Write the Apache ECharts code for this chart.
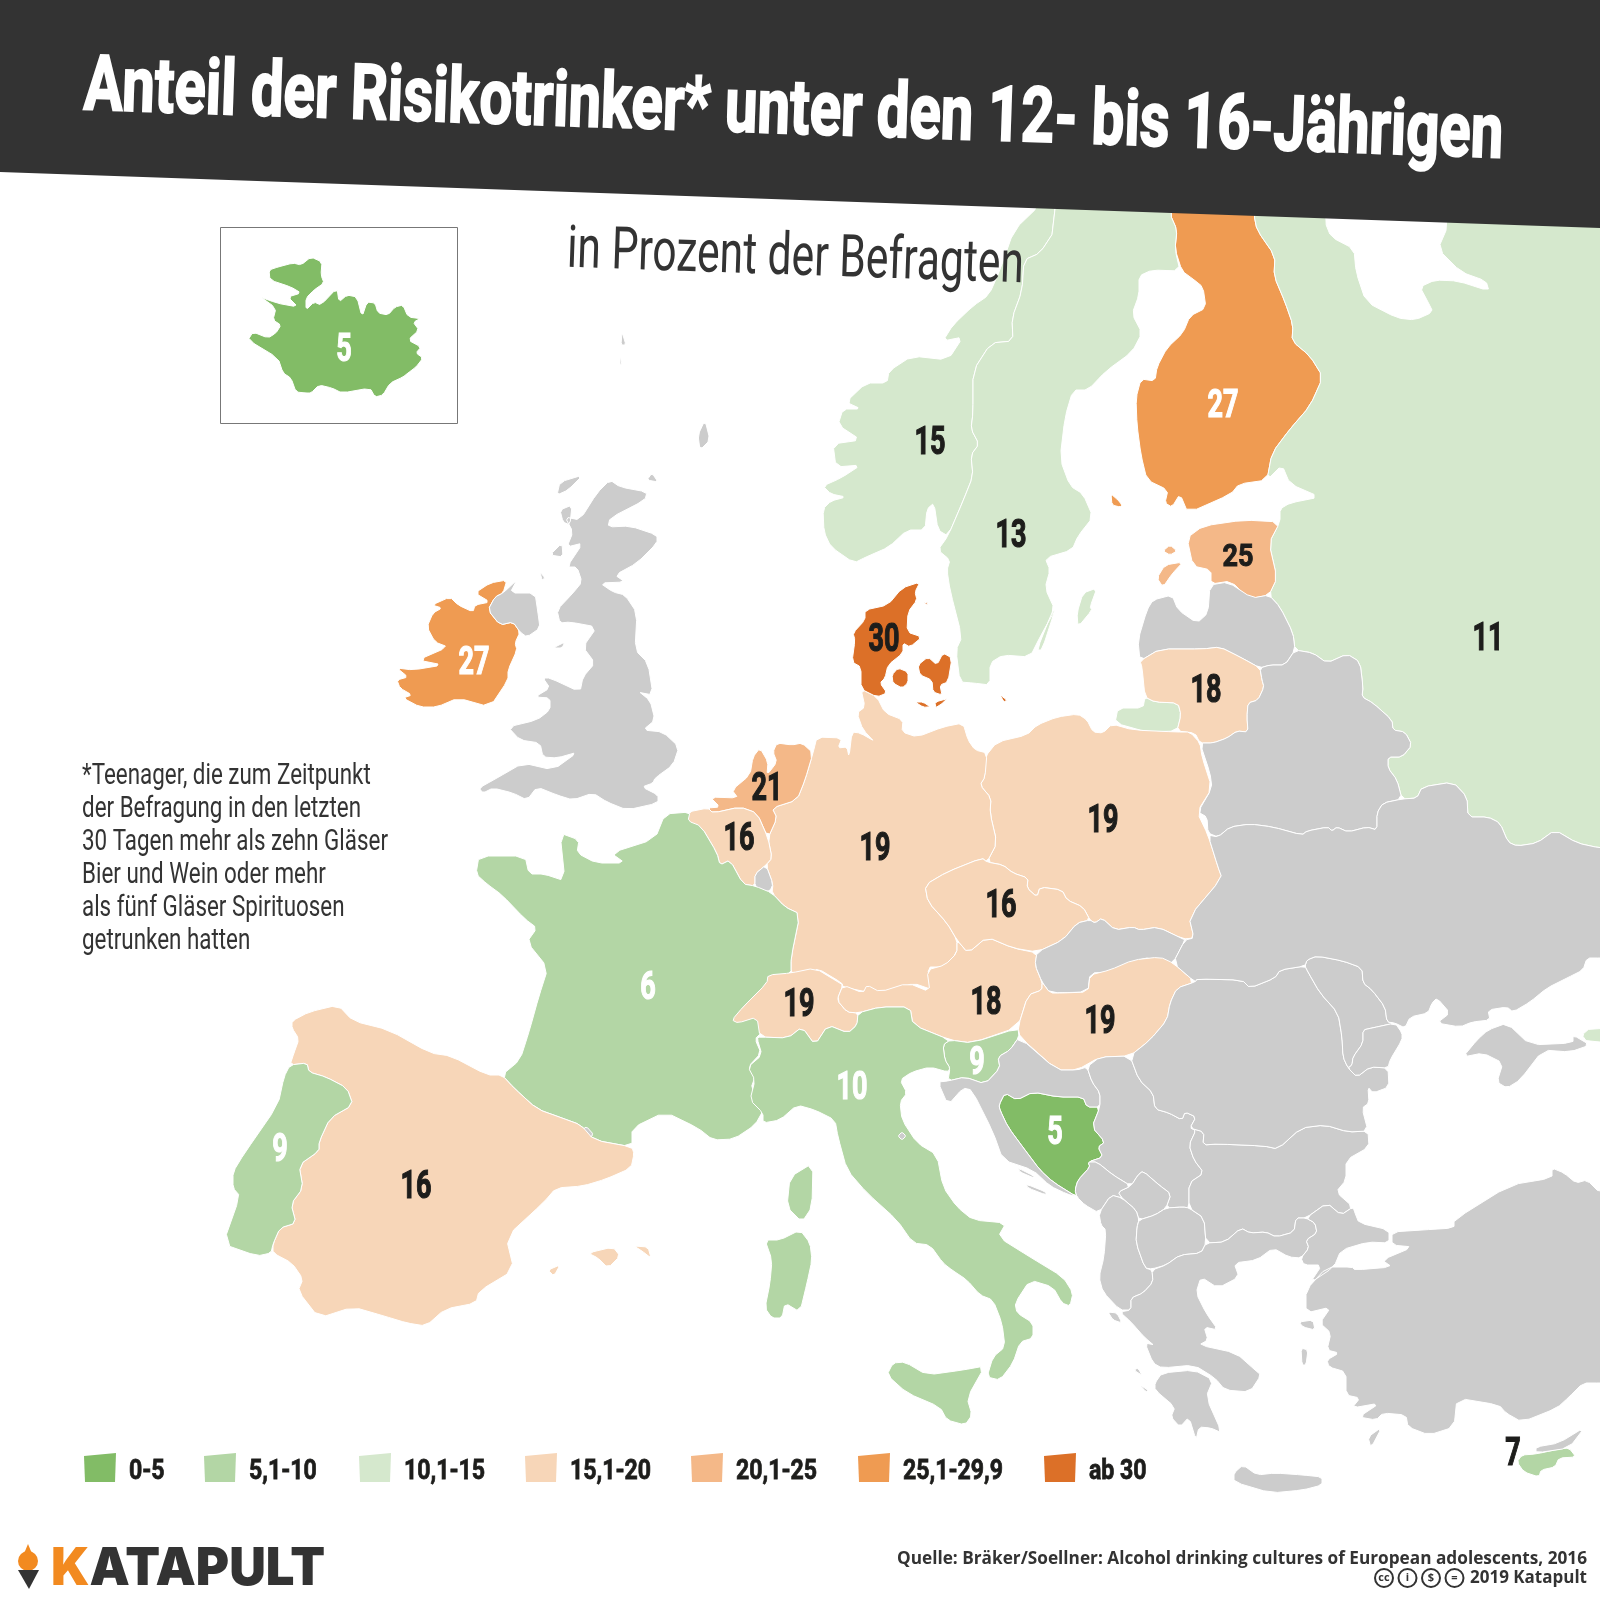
<!DOCTYPE html>
<html>
<head>
<meta charset="utf-8">
<title>Anteil der Risikotrinker</title>
<script src="https://cdn.jsdelivr.net/npm/echarts@6/dist/echarts.min.js"></script>
<style>
	html, body { margin: 0; background: #fff; }
	#map { width: 1600px; height: 1600px; }
</style>
</head>
<body>
<div id="map"></div>
<script>
// Werte
const countryNames = ['Island', 'Finnland', 'Norwegen', 'Schweden', 'Russland', 'Estland', 'Irland', 'Dänemark', 'Litauen', 'Niederlande', 'Belgien', 'Deutschland', 'Polen', 'Tschechien', 'Frankreich', 'Schweiz', 'Österreich', 'Ungarn', 'Slowenien', 'Italien', 'Bosnien', 'Portugal', 'Spanien', 'Zypern']
const riskShares = [5, 27, 15, 13, 11, 25, 27, 30, 18, 21, 16, 19, 19, 16, 6, 19, 18, 19, 9, 10, 5, 9, 16, 7]
const whiteLabels = ['Island', 'Finnland', 'Irland', 'Frankreich', 'Italien', 'Slowenien', 'Bosnien', 'Portugal']

// Legende
const classLabels = ['0-5', '5,1-10', '10,1-15', '15,1-20', '20,1-25', '25,1-29,9', 'ab 30']
const classColors = ['#82bc66', '#b3d6a5', '#d5e8cd', '#f7d6b8', '#f4b888', '#ef9b52', '#dc7028']
const classLower = [-1, 5, 10, 15, 20, 25, 29.9]
const classUpper = [5, 10, 15, 20, 25, 29.9, 100]

const noteLines = ['*Teenager, die zum Zeitpunkt', 'der Befragung in den letzten', '30 Tagen mehr als zehn Gläser', 'Bier und Wein oder mehr', 'als fünf Gläser Spirituosen', 'getrunken hatten']

// Umrisse, von Hand nachgezeichnet (x,y im Bild)
const labelAt = {
	Island: [344, 347], Finnland: [1223, 403], Norwegen: [930, 440], Schweden: [1011, 533], Russland: [1488, 636],
	Estland: [1238, 554], Irland: [474, 660], 'Dänemark': [884, 637], Litauen: [1206, 688], Niederlande: [767, 786],
	Belgien: [739, 836], Deutschland: [875, 846], Polen: [1103, 818], Tschechien: [1001, 903], Frankreich: [648, 985],
	Schweiz: [799, 1002], 'Österreich': [986, 1000], Ungarn: [1100, 1019], Slowenien: [977, 1060], Italien: [852, 1085],
	Bosnien: [1055, 1130], Portugal: [280, 1147], Spanien: [416, 1184], Zypern: [1513, 1451]
}
const outlines = {
	Island: ['269,270 278,267 293,263 301,265 311,257 322,262 321,275 324,283 314,290 306,298 306,310 314,302 321,305 337,288 339,302 347,295 357,297 362,317 367,302 375,303 378,313 388,315 395,307 403,305 408,317 423,319 413,322 419,330 408,340 421,347 416,353 423,358 416,367 408,373 403,377 390,383 383,395 375,397 370,388 342,393 332,388 319,385 311,393 306,393 296,392 291,378 283,373 278,358 248,340 253,332 268,338 276,333 281,325 273,320 276,308 258,295 276,303 298,307 288,297 301,293 291,287 270,280'],
	Finnland: ['1170,100 1254,100 1254,215 1257,230 1275,256 1274,276 1285,302 1293,325 1292,341 1310,356 1323,377 1310,406 1290,429 1272,453 1267,480 1239,484 1231,494 1188,513 1180,494 1172,507 1165,503 1168,490 1147,480 1141,455 1137,425 1136,398 1141,379 1155,381 1157,367 1167,348 1183,333 1190,316 1206,308 1203,287 1193,279 1182,271 1175,249 1177,230 1170,214',
		'1111,494 1118,500 1122,505 1120,507 1112,505'],
	Norwegen: ['1058,100 1055,230 1040,253 1024,260 1022,291 1012,318 1013,341 991,343 973,371 973,413 971,429 979,444 971,455 973,476 963,501 948,536 938,530 934,503 927,509 925,530 907,530 889,547 866,557 854,563 831,547 824,532 823,509 831,501 846,497 831,494 823,486 841,478 861,465 836,467 833,444 861,440 838,425 843,409 861,409 846,402 866,383 887,383 889,371 912,356 948,360 963,337 943,341 953,325 973,306 989,295 1000,270 1014,230 1040,205'],
	Schweden: ['1058,100 1170,100 1170,214 1177,230 1175,249 1180,271 1152,270 1139,276 1139,295 1132,314 1142,333 1132,352 1106,371 1088,390 1073,390 1065,417 1060,459 1070,486 1083,494 1093,517 1078,536 1072,550 1045,558 1050,570 1045,588 1055,610 1040,637 1030,657 1003,655 990,663 990,685 973,683 960,682 956,650 962,637 950,590 947,570 950,560 938,550 948,536 963,501 973,476 971,455 979,444 971,429 973,413 973,371 991,343 1013,341 1012,318 1022,291 1024,260 1040,253 1055,230',
		'1077,613 1083,593 1097,588 1090,607 1092,610 1078,627',
		'1037,650 1052,612 1055,610 1042,650'],
	Russland: ['1254,100 1254,215 1257,230 1275,256 1274,276 1285,302 1293,325 1292,341 1310,356 1323,377 1310,406 1290,429 1272,453 1267,480 1282,465 1290,484 1320,497 1290,503 1280,509 1280,522 1269,543 1277,578 1269,595 1280,607 1293,633 1295,650 1313,653 1327,663 1347,654 1360,662 1363,687 1362,697 1373,703 1392,720 1393,730 1405,732 1412,745 1402,757 1388,757 1388,768 1397,780 1402,799 1417,798 1422,787 1453,782 1467,797 1468,817 1488,817 1500,823 1508,842 1517,846 1537,843 1555,830 1577,843 1600,848 1700,858 1700,100 1448,100 1448,226 1438,249 1461,272 1486,281 1489,291 1458,281 1435,280 1420,287 1428,302 1433,312 1415,320 1397,318 1366,302 1356,272 1354,249 1331,237 1325,222 1325,100',
		'1115,723 1118,708 1143,708 1145,697 1155,702 1178,703 1181,715 1177,731 1147,732',
		'1582,1035 1590,1028 1700,1027 1700,1047 1587,1042',
		'1593,977 1700,977 1700,1000'],
	Estland: ['1187,538 1203,526 1244,520 1280,522 1269,543 1277,578 1269,595 1249,599 1231,581 1211,584 1211,570 1193,566',
		'1157,578 1165,565 1183,562 1172,574 1163,587',
		'1163,551 1170,545 1177,551 1170,555'],
	Lettland: ['1138,640 1147,610 1153,600 1172,595 1178,610 1197,623 1208,613 1210,585 1228,582 1252,598 1269,595 1280,607 1293,633 1295,650 1285,665 1270,665 1260,668 1240,657 1220,647 1203,649 1160,649 1140,661'],
	Litauen: ['1140,661 1160,649 1203,649 1220,647 1240,657 1260,668 1262,680 1264,687 1258,700 1248,703 1247,717 1248,732 1237,731 1227,738 1213,743 1200,743 1195,733 1177,731 1181,715 1178,703 1155,702 1145,697 1142,667'],
	Belarus: ['1295,650 1313,653 1327,663 1347,654 1360,662 1363,687 1362,697 1373,703 1392,720 1393,730 1405,732 1412,745 1402,757 1388,757 1388,768 1397,780 1402,799 1383,803 1377,813 1377,830 1367,827 1348,832 1337,827 1332,831 1328,827 1307,831 1302,835 1273,827 1250,824 1230,827 1218,837 1208,833 1207,817 1198,812 1212,788 1210,773 1200,743 1213,743 1227,738 1237,731 1248,732 1247,717 1248,703 1258,700 1264,687 1262,680 1260,668 1270,665 1285,665'],
	Polen: ['997,742 985,757 985,777 980,785 991,798 990,813 997,843 987,862 1003,865 1013,873 1028,878 1027,888 1037,897 1040,887 1062,890 1067,900 1083,907 1090,920 1095,923 1102,918 1115,930 1133,927 1140,930 1158,927 1183,939 1194,938 1189,917 1222,878 1218,867 1208,835 1197,812 1212,788 1202,757 1200,743 1190,732 1177,732 1133,730 1112,724 1103,733 1093,732 1087,720 1078,714 1057,717 1037,725 1027,735'],
	Deutschland: ['817,737 842,738 838,748 847,747 849,757 852,732 860,733 876,742 863,730 857,713 865,707 861,689 877,697 885,713 903,720 902,732 917,737 943,727 963,723 968,740 975,750 987,753 985,777 980,785 991,798 990,813 997,843 987,862 982,858 947,872 925,885 928,902 947,923 957,940 957,953 943,967 927,967 933,990 913,983 897,990 867,992 843,987 842,983 817,968 813,975 800,977 791,973 791,958 800,914 785,907 772,893 773,884 766,865 772,858 768,838 777,818 772,808 797,800 805,780 813,753'],
	Niederlande: ['813,753 802,743 792,745 777,743 773,752 777,762 767,775 768,762 760,748 753,757 750,775 732,790 738,798 710,797 720,807 708,808 713,813 740,807 757,813 768,838 777,818 772,808 797,800 805,780'],
	Belgien: ['708,808 688,812 688,823 701,826 717,853 720,865 730,860 743,884 755,886 755,874 766,865 772,858 768,838 757,813 740,807 713,813'],
	Luxemburg: ['755,886 755,874 766,865 773,884 770,891 761,891'],
	Frankreich: ['690,812 665,814 655,839 611,853 625,863 596,863 577,853 579,840 560,833 565,881 544,874 529,874 525,856 479,856 476,874 487,884 502,895 525,919 537,928 527,942 548,968 539,996 529,1032 520,1060 502,1075 514,1088 537,1109 562,1118 581,1125 594,1140 632,1147 632,1128 665,1112 698,1128 713,1140 734,1139 755,1125 764,1109 751,1088 755,1077 748,1067 761,1053 755,1039 761,1033 759,1016 734,1021 743,1007 770,982 791,974 791,958 800,914 785,907 772,893 755,886 743,884 730,860 720,865 717,853 701,826 688,821',
		'813,1163 812,1207 802,1222 787,1207 790,1177'],
	Andorra: ['581,1133 586,1126 594,1135 585,1139'],
	Spanien: ['292,1021 309,1012 338,1005 353,1021 389,1030 430,1053 451,1056 487,1075 502,1075 514,1088 537,1109 562,1118 581,1125 594,1140 632,1147 634,1154 631,1168 606,1179 583,1186 556,1188 544,1202 506,1237 514,1270 479,1291 476,1303 445,1309 426,1326 407,1323 384,1316 353,1307 319,1318 298,1291 303,1279 292,1263 273,1253 273,1244 280,1228 296,1223 291,1204 303,1188 299,1165 319,1151 319,1142 330,1118 353,1105 347,1088 326,1077 309,1072 307,1063 290,1065 294,1053 299,1039 292,1028',
		'588,1253 613,1247 620,1256 608,1268 598,1258',
		'634,1246 648,1247 651,1258 642,1251',
		'548,1270 560,1265 554,1276'],
	Portugal: ['290,1065 307,1063 309,1072 326,1077 347,1088 353,1105 330,1118 319,1142 319,1151 299,1165 303,1188 291,1204 296,1223 280,1228 273,1244 271,1253 257,1256 223,1244 240,1196 233,1188 233,1172 244,1154 278,1105 284,1077'],
	Schweiz: ['732,1020 743,1007 767,983 768,975 791,973 815,968 838,982 843,985 837,1000 847,1012 858,1013 857,1025 848,1033 828,1025 815,1045 802,1027 788,1038 760,1037 757,1017 738,1023'],
	Liechtenstein: ['837,1000 842,993 843,1003'],
	'Österreich': ['843,985 863,993 867,985 880,992 908,983 930,992 927,970 945,965 957,953 957,940 968,953 987,937 1013,948 1037,953 1035,965 1042,982 1042,990 1028,995 1018,1027 972,1043 950,1040 913,1025 910,1007 880,1007 858,1013 847,1012 837,1000'],
	Tschechien: ['982,858 987,862 1003,865 1013,873 1028,878 1027,888 1037,897 1040,887 1062,890 1067,900 1083,907 1090,920 1077,923 1063,940 1037,952 1013,948 987,937 968,953 957,940 947,923 928,902 925,885 947,872'],
	Slowakei: ['1090,920 1095,923 1102,918 1115,930 1133,927 1140,930 1158,927 1183,939 1185,940 1173,963 1163,962 1143,957 1128,970 1112,972 1090,973 1088,992 1050,993 1042,982 1035,965 1037,952 1063,940 1077,923'],
	Ungarn: ['1042,982 1050,993 1062,993 1088,992 1090,975 1110,970 1133,960 1160,957 1173,963 1195,982 1177,988 1170,1003 1167,1020 1150,1040 1130,1056 1100,1057 1077,1070 1057,1070 1020,1037 1018,1027 1028,995 1042,990'],
	Slowenien: ['943,1045 950,1040 972,1043 1018,1028 1019,1037 1010,1050 998,1057 1000,1068 985,1084 965,1077 948,1081 950,1068 945,1060'],
	Italien: ['757,1038 760,1037 788,1038 802,1027 815,1045 828,1025 848,1033 857,1025 858,1013 880,1007 910,1007 913,1025 950,1040 943,1045 945,1060 950,1068 948,1072 930,1067 912,1072 900,1080 907,1093 900,1102 902,1120 917,1143 937,1155 943,1187 957,1207 973,1220 1006,1223 998,1237 1030,1257 1063,1277 1073,1293 1070,1306 1062,1303 1053,1287 1030,1280 1015,1303 1017,1313 1033,1323 1033,1338 1020,1342 1013,1363 1000,1380 987,1377 993,1357 1005,1347 1002,1323 993,1300 980,1295 967,1280 952,1270 943,1263 930,1245 913,1243 897,1220 867,1193 847,1170 838,1137 835,1120 815,1110 797,1105 780,1120 763,1123 763,1113 750,1100 755,1080 748,1067 762,1055',
		'765,1240 780,1240 800,1230 810,1243 812,1260 807,1283 800,1312 785,1303 782,1318 772,1318 765,1308 770,1283 772,1260',
		'887,1375 893,1363 905,1362 927,1375 963,1370 985,1366 967,1398 972,1415 965,1425 947,1420 940,1407 907,1393'],
	'San Marino': ['898,1136 902,1132 906,1136 902,1140'],
	Bosnien: ['999,1105 1005,1093 1017,1100 1033,1092 1058,1097 1083,1097 1087,1107 1100,1107 1092,1127 1105,1142 1098,1147 1103,1157 1088,1162 1090,1167 1078,1180 1075,1190 1077,1197 1053,1182 1040,1170 1025,1150 1008,1127 1000,1110'],
	Kroatien: ['1019,1037 1057,1070 1077,1070 1087,1067 1092,1082 1100,1093 1100,1107 1087,1107 1083,1097 1058,1097 1033,1092 1017,1100 1005,1093 999,1105 1000,1110 1008,1127 1025,1150 1040,1170 1053,1182 1077,1197 1067,1194 1050,1186 1033,1170 1003,1160 993,1132 972,1090 963,1088 948,1105 938,1082 948,1081 965,1077 985,1084 1000,1068 998,1057 1010,1050',
		'1018,1168 1034,1176 1034,1178 1020,1172',
		'1026,1184 1046,1192 1046,1195 1028,1188'],
	Serbien: ['1087,1067 1100,1057 1130,1056 1139,1080 1153,1093 1155,1109 1169,1113 1182,1120 1185,1112 1196,1117 1190,1128 1196,1130 1189,1145 1194,1160 1204,1173 1189,1183 1189,1208 1183,1207 1166,1208 1171,1194 1159,1185 1143,1171 1138,1175 1131,1186 1113,1175 1097,1162 1088,1162 1103,1157 1098,1147 1105,1142 1092,1127 1100,1107 1100,1093 1092,1082'],
	Kosovo: ['1143,1171 1159,1185 1171,1194 1166,1208 1155,1215 1139,1220 1136,1210 1122,1198 1118,1192 1131,1186 1138,1175'],
	Montenegro: ['1088,1162 1097,1162 1113,1175 1131,1186 1118,1192 1122,1198 1111,1195 1099,1213 1085,1205 1077,1197 1075,1190 1078,1180 1090,1167'],
	Albanien: ['1099,1213 1111,1195 1122,1198 1136,1210 1139,1220 1137,1227 1136,1243 1145,1268 1152,1270 1153,1282 1143,1293 1131,1298 1131,1310 1120,1310 1103,1292 1099,1277 1104,1257 1106,1230 1101,1225'],
	Nordmazedonien: ['1139,1220 1155,1215 1166,1208 1183,1207 1189,1208 1204,1218 1206,1243 1201,1253 1180,1255 1166,1265 1152,1269 1145,1268 1136,1243 1137,1227'],
	Bulgarien: ['1190,1128 1204,1132 1203,1145 1218,1144 1264,1146 1278,1149 1301,1128 1325,1125 1348,1132 1368,1131 1369,1147 1346,1160 1346,1180 1336,1192 1353,1207 1341,1215 1327,1203 1306,1218 1296,1218 1294,1232 1276,1237 1266,1232 1250,1233 1241,1228 1225,1242 1206,1243 1204,1218 1189,1208 1189,1183 1204,1173 1194,1160 1189,1145 1196,1130'],
	'Rumänien': ['1197,979 1242,980 1250,988 1275,978 1280,970 1305,966 1308,972 1320,993 1338,1013 1342,1037 1343,1057 1348,1068 1357,1077 1370,1067 1388,1068 1389,1087 1373,1093 1368,1087 1369,1103 1362,1108 1368,1131 1348,1132 1325,1125 1301,1128 1278,1149 1264,1146 1218,1144 1203,1145 1204,1132 1190,1128 1196,1117 1185,1112 1182,1120 1169,1113 1155,1109 1153,1093 1139,1080 1130,1056 1150,1040 1167,1020 1170,1003 1177,988 1195,982'],
	Moldau: ['1305,966 1307,960 1317,956 1343,961 1362,968 1363,983 1372,990 1385,1007 1387,1022 1395,1023 1372,1028 1363,1030 1363,1043 1353,1057 1352,1065 1348,1068 1343,1057 1342,1037 1338,1013 1320,993 1308,972'],
	Ukraine: ['1208,835 1218,837 1230,827 1250,824 1273,827 1302,835 1307,831 1328,827 1332,831 1337,827 1348,832 1367,827 1377,830 1377,813 1383,803 1402,799 1417,798 1422,787 1453,782 1467,797 1468,817 1488,817 1500,823 1508,842 1517,846 1537,843 1555,830 1577,843 1600,848 1700,858 1700,958 1600,958 1587,958 1583,970 1567,978 1547,988 1530,1002 1513,1012 1507,1007 1488,1010 1490,1020 1472,1022 1460,1027 1437,1023 1450,1013 1437,998 1432,1003 1428,1013 1410,1017 1405,1028 1395,1023 1387,1022 1385,1007 1372,990 1363,983 1362,968 1343,961 1317,956 1307,960 1305,966 1280,970 1275,978 1250,988 1242,980 1197,979 1195,982 1173,963 1185,940 1194,938 1189,917 1222,878 1218,867',
		'1395,1023 1372,1028 1363,1030 1363,1043 1353,1057 1352,1065 1348,1068 1357,1077 1370,1067 1388,1068 1390,1060 1402,1040 1402,1033',
		'1463,1057 1477,1040 1488,1030 1507,1023 1530,1045 1573,1043 1573,1035 1590,1045 1570,1052 1543,1050 1520,1080 1507,1088 1497,1082 1503,1063 1483,1053'],
	Griechenland: ['1131,1310 1131,1298 1143,1293 1153,1282 1152,1270 1166,1265 1180,1255 1201,1253 1206,1243 1225,1242 1241,1228 1250,1233 1266,1232 1276,1237 1294,1232 1296,1218 1306,1218 1315,1223 1317,1233 1306,1240 1309,1248 1301,1258 1289,1257 1273,1248 1257,1260 1234,1263 1239,1277 1218,1288 1201,1277 1196,1293 1206,1313 1218,1330 1204,1327 1208,1340 1199,1345 1236,1353 1255,1370 1261,1375 1250,1392 1225,1390 1215,1378 1194,1365 1162,1368 1153,1363 1145,1343 1155,1345 1145,1338 1131,1322 1120,1312',
		'1155,1383 1162,1373 1194,1370 1213,1380 1206,1397 1222,1433 1211,1428 1199,1427 1196,1440 1189,1417 1180,1427 1171,1417 1175,1407 1155,1390',
		'1234,1473 1243,1465 1257,1475 1275,1473 1303,1475 1322,1477 1322,1485 1303,1490 1271,1493 1234,1482',
		'1299,1322 1313,1320 1315,1330 1303,1327',
		'1301,1348 1308,1350 1306,1365 1302,1365',
		'1368,1437 1382,1427 1371,1448',
		'1108,1312 1117,1313 1122,1323 1113,1320',
		'1134,1370 1138,1368 1143,1377',
		'1140,1385 1148,1390 1146,1392'],
	'Türkei': ['1341,1215 1353,1207 1355,1213 1359,1223 1389,1230 1389,1243 1368,1242 1341,1250 1334,1267 1310,1283 1322,1265 1304,1265 1301,1258 1309,1248 1306,1240 1317,1233 1315,1223 1306,1218 1327,1203',
		'1392,1232 1422,1230 1454,1228 1454,1220 1510,1185 1552,1178 1552,1168 1564,1173 1576,1183 1587,1180 1600,1193 1700,1200 1700,1383 1600,1383 1583,1383 1569,1397 1557,1408 1522,1422 1506,1413 1499,1405 1457,1398 1454,1427 1429,1435 1408,1427 1406,1415 1383,1413 1376,1420 1359,1417 1380,1403 1352,1408 1360,1398 1346,1395 1346,1372 1329,1367 1327,1360 1339,1353 1327,1350 1331,1333 1320,1323 1331,1307 1306,1313 1306,1290 1327,1267 1352,1267 1355,1270 1392,1267 1382,1260 1413,1247 1392,1245'],
	Zypern: ['1517,1462 1522,1455 1536,1454 1559,1449 1569,1448 1576,1457 1559,1458 1555,1467 1541,1470 1539,1477 1524,1472'],
	Nordzypern: ['1536,1447 1559,1443 1585,1427 1569,1448 1536,1453'],
	Irland: ['507,580 503,593 495,597 488,610 500,625 513,622 520,632 515,643 517,650 508,670 508,680 490,707 458,698 437,707 420,707 403,698 412,695 400,688 397,680 408,677 397,668 413,670 443,665 418,660 448,647 435,642 427,627 433,613 442,608 432,605 450,597 458,605 473,612 475,605 490,602 475,593 490,583'],
	Nordirland: ['488,610 495,597 503,593 517,580 510,593 535,593 538,613 540,628 527,637 520,632 513,622 500,625'],
	Grossbritannien: ['610,480 620,487 647,492 645,500 610,518 608,527 630,526 657,535 657,543 637,563 615,575 625,582 600,583 613,592 625,595 637,613 635,650 648,663 653,695 637,692 650,700 655,720 643,730 663,732 679,747 673,765 655,778 653,783 642,787 658,795 658,803 627,810 607,802 593,793 573,800 557,795 537,787 527,800 513,793 493,788 483,793 479,788 497,778 523,763 553,770 578,752 557,758 543,757 540,743 520,740 508,727 537,720 550,710 550,698 535,697 550,688 543,678 550,678 580,692 583,677 595,663 583,647 597,627 570,622 560,623 557,610 573,593 582,582 577,567 567,567 583,543 567,547 573,532 565,517 580,520 597,493',
		'560,482 583,475 568,490 557,495',
		'560,510 572,505 570,525 563,522',
		'550,555 562,543 563,557',
		'540,572 545,578 542,580',
		'553,648 565,642 562,648',
		'647,480 658,482 652,473',
		'622,332 626,345 621,345',
		'620,355 622,365 620,365',
		'705,420 710,440 700,450 698,435'],
	'Dänemark': ['920,582 915,592 917,600 908,612 907,632 922,637 910,647 903,643 903,653 888,665 885,678 880,683 887,693 877,697 861,689 861,667 852,662 855,640 853,633 865,620 865,610 888,605 902,588',
		'892,675 898,668 908,672 908,683 902,688 893,683',
		'918,665 928,657 937,665 943,653 952,658 948,682 940,685 942,695 933,692 932,680 920,675',
		'915,702 923,702 932,708 923,707',
		'935,702 950,698 940,705 935,708',
		'1000,695 1007,700 1004,702',
		'923,603 928,602 928,605']
}

// y wird negativ, weil echarts bei geoJSON die Breite umkehrt.
// Ecken werden leicht abgeschnitten, damit die Küsten weicher wirken.
const toRing = text => {
	const pts = text.split(' ').map(p => p.split(',').map(Number))
	const ring = []
	pts.forEach((a, i) => {
		const b = pts[(i + 1) % pts.length]
		ring.push([a[0] * 0.8 + b[0] * 0.2, -(a[1] * 0.8 + b[1] * 0.2)])
		ring.push([a[0] * 0.2 + b[0] * 0.8, -(a[1] * 0.2 + b[1] * 0.8)])
	})
	ring.push(ring[0])
	return ring
}

echarts.registerMap('europa', {
	type: 'FeatureCollection',
	features: Object.keys(outlines).map(name => ({
		type: 'Feature',
		properties: { name: name },
		geometry: { type: 'MultiPolygon', coordinates: outlines[name].map(t => [toRing(t)]) }
	}))
})

// Schmale Schrift gibt es nicht, also wird gestaucht
const NARROW = 'Roboto, sans-serif'
const pen = document.createElement('canvas').getContext('2d')
const squeeze = (text, font, width) => {
	pen.font = font
	return width / pen.measureText(text).width
}

const chart = echarts.init(document.getElementById('map'))
chart.setOption({
	animation: false,
	visualMap: {
		type: 'piecewise',
		show: false,
		pieces: classLabels.map((label, i) => ({ gt: classLower[i], lte: classUpper[i], label: label, color: classColors[i] }))
	},
	series: [{
		type: 'map',
		map: 'europa',
		left: 0,
		top: 0,
		right: 0,
		bottom: 0,
		aspectScale: 1,
		boundingCoords: [[0, 0], [1600, -1600]],
		silent: true,
		itemStyle: { areaColor: '#cccccc', borderColor: '#fff', borderWidth: 1 },
		label: { show: false },
		data: countryNames.map((name, i) => ({ name: name, value: riskShares[i] }))
	}]
})

// Wertebeschriftung an den Länderpunkten
const valueFont = 'bold 39px ' + NARROW
const valueScale = squeeze('19', valueFont, 31)
const valueLabels = countryNames.map((name, i) => {
	const at = chart.convertToPixel({ seriesIndex: 0 }, [labelAt[name][0], -labelAt[name][1]])
	const color = whiteLabels.includes(name) ? '#fff' : '#1d1d1b'
	const small = name === 'Estland'
	return {
		type: 'text', z: 21, x: at[0], y: at[1] + 4, scaleX: valueScale, scaleY: small ? 0.82 : 1,
		style: { text: String(riskShares[i]), fill: color, stroke: color, lineWidth: 1.2, font: valueFont, align: 'center', verticalAlign: 'middle' }
	}
})

// Legende
const legendFont = 'bold 28px ' + NARROW
const legendScale = squeeze('25,1-29,9', legendFont, 100)
const legendX = [84, 204, 359, 525, 691, 858, 1044]
const legendItems = classLabels.flatMap((label, i) => [
	{ type: 'polygon', z: 21, shape: { points: [[legendX[i], 1456], [legendX[i] + 32, 1453], [legendX[i] + 31, 1482], [legendX[i] + 1, 1482]] }, style: { fill: classColors[i] } },
	{ type: 'text', z: 21, x: legendX[i] + 45, y: 1472, scaleX: legendScale, style: { text: label, fill: '#1d1d1b', stroke: '#1d1d1b', lineWidth: 0.8, font: legendFont, verticalAlign: 'middle' } }
])

const titleText = 'Anteil der Risikotrinker* unter den 12- bis 16-Jährigen'
const titleFont = 'bold 77px ' + NARROW
const subText = 'in Prozent der Befragten'
const subFont = '59px ' + NARROW
const noteFont = '30px ' + NARROW
const logoFont = '900 52px Inter, sans-serif'
const sourceText = 'Quelle: Bräker/Soellner: Alcohol drinking cultures of European adolescents, 2016'
const sourceFont = 'bold 17px "Open Sans", sans-serif'

chart.setOption({ graphic: { elements: [
	{ type: 'polygon', z: 20, shape: { points: [[0, 0], [1600, 0], [1600, 228], [0, 172]] }, style: { fill: '#333333' } },
	{ type: 'text', z: 21, x: 84, y: 90, rotation: -0.034, scaleX: squeeze(titleText, titleFont, 1420), style: {
		text: titleText, fill: '#fff', stroke: '#fff', lineWidth: 2, font: titleFont, verticalAlign: 'middle'
	} },
	{ type: 'text', z: 21, x: 567, y: 252, rotation: -0.034, scaleX: squeeze(subText, subFont, 457), style: {
		text: subText, fill: '#333333', font: subFont, verticalAlign: 'middle'
	} },
	{ type: 'rect', z: 1, shape: { x: 220.5, y: 227.5, width: 237, height: 196 }, style: { fill: 'none', stroke: '#777', lineWidth: 1 } },
	{ type: 'text', z: 21, x: 82, y: 760, scaleX: squeeze(noteLines[2], noteFont, 306), style: {
		text: noteLines.join('\n'), fill: '#333333', font: noteFont, lineHeight: 33
	} },
	// Logo
	{ type: 'circle', z: 21, shape: { cx: 28, cy: 1561, r: 10 }, style: { fill: '#f28a20' } },
	{ type: 'polygon', z: 21, shape: { points: [[28, 1544], [33, 1556], [23, 1556]] }, style: { fill: '#f28a20' } },
	{ type: 'polygon', z: 21, shape: { points: [[18, 1570], [39, 1570], [29, 1589]] }, style: { fill: '#333333' } },
	{ type: 'text', z: 21, x: 51, y: 1569, scaleX: squeeze('KATAPULT', logoFont, 274), style: {
		text: '{k|K}{r|ATAPULT}',
		verticalAlign: 'middle',
		rich: {
			k: { fill: '#f28a20', font: logoFont },
			r: { fill: '#333333', font: logoFont }
		}
	} },
	// Quelle
	{ type: 'text', z: 21, x: 1587, y: 1559, scaleX: squeeze(sourceText, sourceFont, 690), style: {
		text: sourceText, fill: '#333333', font: sourceFont, align: 'right', verticalAlign: 'middle'
	} },
	{ type: 'text', z: 21, x: 1587, y: 1578, style: {
		text: '2019 Katapult', fill: '#333333', font: sourceFont, align: 'right', verticalAlign: 'middle'
	} }
].concat(['cc', 'i', '$', '='].flatMap((mark, i) => [
	{ type: 'text', z: 21, x: 1384 + i * 23.5, y: 1578, style: { text: mark, fill: '#333333', font: 'bold 11px "Open Sans", sans-serif', align: 'center', verticalAlign: 'middle' } },
	{ type: 'circle', z: 21, shape: { cx: 1384 + i * 23.5, cy: 1578, r: 9 }, style: { fill: 'none', stroke: '#333333', lineWidth: 2 } }
]), valueLabels, legendItems) } })
</script>
</body>
</html>
